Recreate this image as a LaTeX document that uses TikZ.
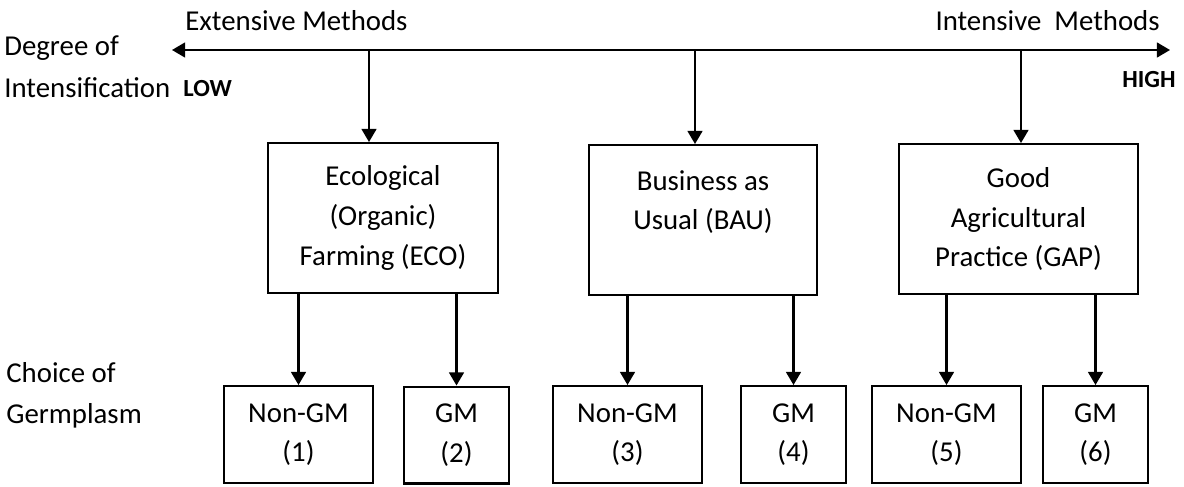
\documentclass[tikz,border=0pt]{standalone}
\usepackage{fontspec}
\setmainfont{Carlito}
\usetikzlibrary{arrows.meta}

\begin{document}
\begin{tikzpicture}[x=0.02cm, y=-0.02cm, font={\fontsize{16.4}{22.5}\selectfont},
    lbl/.style={inner sep=0pt},
    hilo/.style={inner sep=0pt, font={\fontsize{14}{16}\selectfont\bfseries}},
    topbox/.style={draw, line width=1.15pt, align=center, inner sep=0pt,
      minimum width=4.6cm, minimum height=3cm},
    widebox/.style={draw, line width=1.15pt, align=center, inner sep=0pt,
      minimum width=2.98cm, minimum height=1.94cm},
    narrowbox/.style={widebox, minimum width=2.1cm},
    conn/.style={line width=1.15pt, -{Triangle[width=8.5pt,length=7.5pt]}},
    axis/.style={line width=1.15pt, {Triangle[width=8.5pt,length=7.5pt]}-{Triangle[width=8.5pt,length=7.5pt]}}]
      \useasboundingbox (0,0) rectangle (1184,487);

      \node[lbl, anchor=base west] (ext) at (185,30) {Extensive Methods};
      \node[lbl, anchor=base east] (int) at (1160,30) {Intensive\ \ Methods};
      \node[lbl, anchor=base west] (deg) at (4,55) {Degree of};
      \node[lbl, anchor=base west] (intens) at (4,97) {Intensification};
      \node[hilo, anchor=base west] (low) at (183,96) {LOW};
      \node[hilo, anchor=base east] (high) at (1176,87) {HIGH};
      \node[lbl, anchor=base west] (choice) at (6,382) {Choice of};
      \node[lbl, anchor=base west] (germ) at (6,423) {Germplasm};

      \coordinate (lo) at (172,50);
      \coordinate (hi) at (1170,50);
      \coordinate (t1) at (369,50);
      \coordinate (t2) at (695,50);
      \coordinate (t3) at (1021,50);

      \node[topbox] (eco) at (383,218) {Ecological\\(Organic)\\Farming (ECO)};
      \node[topbox, minimum width=4.56cm] (bau) at (703,220) {Business as\\Usual (BAU)\\\mbox{}};
      \node[topbox, minimum width=4.78cm] (gap) at (1018.5,219) {Good\\Agricultural\\Practice (GAP)};

      \node[widebox] (g1) at (298.5,434.5) {Non-GM\\(1)};
      \node[narrowbox] (g2) at (456.5,435) {GM\\(2)};
      \node[widebox] (g3) at (627.5,434.5) {Non-GM\\(3)};
      \node[narrowbox] (g4) at (793.5,434.5) {GM\\(4)};
      \node[widebox] (g5) at (946.5,434.5) {Non-GM\\(5)};
      \node[narrowbox] (g6) at (1095.5,434.5) {GM\\(6)};

      \draw[axis] (lo) -- (hi);
      \draw[conn] (t1) -- (t1 |- eco.north);
      \draw[conn] (t2) -- (t2 |- bau.north);
      \draw[conn] (t3) -- (t3 |- gap.north);

      \foreach \a/\b in {eco/g1, eco/g2, bau/g3, bau/g4, gap/g5, gap/g6}
        \draw[conn] (\b.north |- \a.south) -- (\b.north);
\end{tikzpicture}
\end{document}
